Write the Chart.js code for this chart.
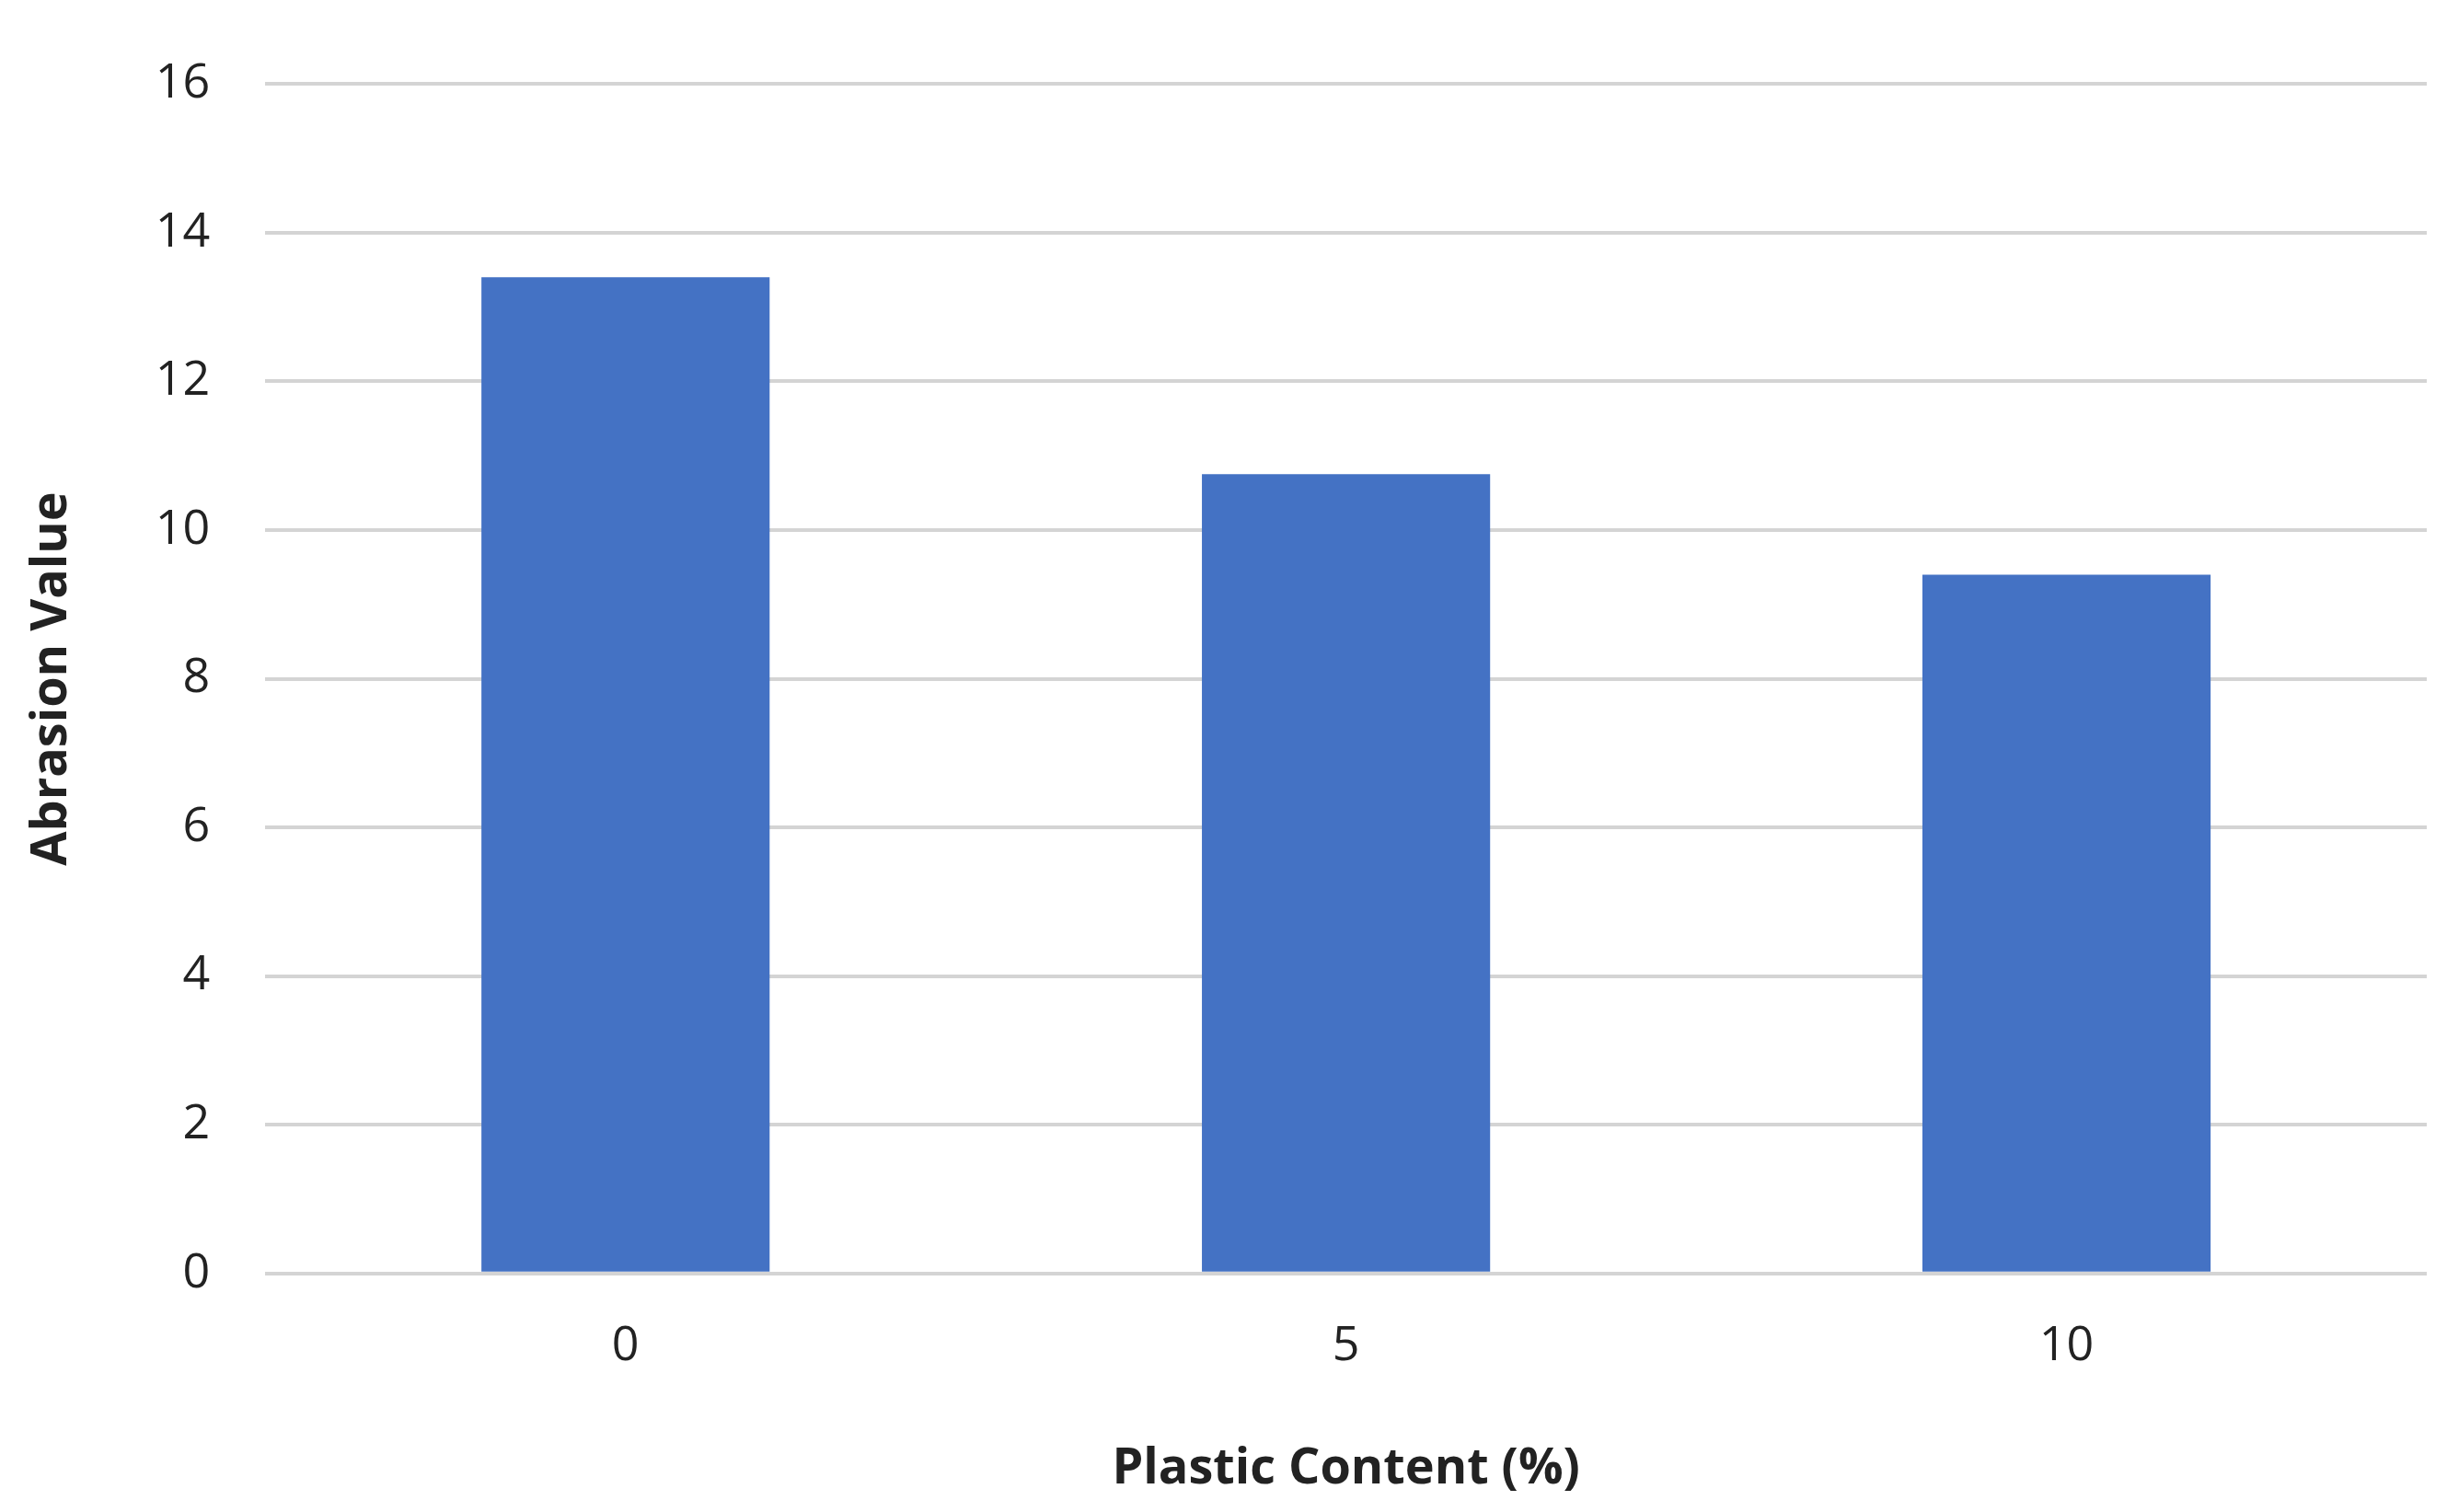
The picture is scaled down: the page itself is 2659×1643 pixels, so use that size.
<!DOCTYPE html>
<html lang="en">
<head>
  <meta charset="UTF-8">
  <title>Abrasion Value</title>
  <script src="https://cdn.jsdelivr.net/npm/chart.js"></script>
  <style>
    html, body { margin: 0; padding: 0; background: #fff; }
    #wrap { width: 2659px; height: 1643px; }
  </style>
</head>
<body>
<div id="wrap"><canvas id="barChart"></canvas></div>
<script>
  // Data
  const categories = ['0', '5', '10'];
  const abrasionValues = [13.4, 10.75, 9.4];
  const yTicks = [0, 2, 4, 6, 8, 10, 12, 14, 16];

  const ctx = document.getElementById('barChart').getContext('2d');
  new Chart(ctx, {
    type: 'bar',
    data: {
      labels: categories,
      datasets: [{
        label: 'Abrasion Value',
        data: abrasionValues,
        backgroundColor: '#4472C4',
        categoryPercentage: 1.0,
        barPercentage: 0.4
      }]
    },
    options: {
      responsive: true,
      maintainAspectRatio: false,
      animation: false,
      layout: { padding: { top: 30, right: 22, left: 20, bottom: 10 } },
      plugins: { legend: { display: false }, tooltip: { enabled: false } },
      scales: {
        x: {
          grid: { display: false },
          border: { display: false },
          ticks: { color: '#222', font: { family: 'Open Sans', size: 52 }, padding: 40 },
          title: {
            display: true,
            text: 'Plastic Content (%)',
            color: '#222',
            font: { family: 'Open Sans', size: 54, weight: 'bold' },
            padding: { top: 30 }
          }
        },
        y: {
          min: 0,
          max: 16,
          afterBuildTicks: axis => { axis.ticks = yTicks.map(v => ({ value: v })); },
          grid: { color: '#d4d4d4', lineWidth: 4, drawTicks: false },
          border: { display: false },
          ticks: { color: '#222', font: { family: 'Open Sans', size: 52 }, padding: 60 },
          title: {
            display: true,
            text: 'Abrasion Value',
            color: '#222',
            font: { family: 'Open Sans', size: 54, weight: 'bold' },
            padding: { bottom: 20 }
          }
        }
      }
    }
  });
</script>
</body>
</html>
